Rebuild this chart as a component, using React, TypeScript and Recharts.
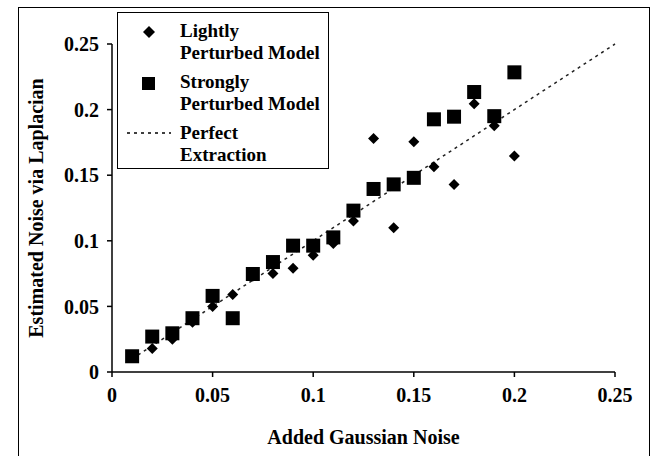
import React from "react";
import { ScatterChart, Scatter, XAxis, YAxis } from "recharts";

// values
const noiseLevels = [0.01, 0.02, 0.03, 0.04, 0.05, 0.06, 0.07, 0.08, 0.09, 0.1, 0.11, 0.12, 0.13, 0.14, 0.15, 0.16, 0.17, 0.18, 0.19, 0.2];
const lightlyValues = [0.011, 0.018, 0.025, 0.038, 0.05, 0.059, 0.073, 0.075, 0.079, 0.089, 0.098, 0.115, 0.178, 0.11, 0.1755, 0.1565, 0.143, 0.2045, 0.1877, 0.1646];
const stronglyValues = [0.012, 0.027, 0.0295, 0.041, 0.058, 0.041, 0.0747, 0.0838, 0.0963, 0.0963, 0.1026, 0.123, 0.1395, 0.143, 0.148, 0.1926, 0.1946, 0.2134, 0.195, 0.2284];
const perfectX = [0.01, 0.25];
const axisTicks = [0, 0.05, 0.1, 0.15, 0.2, 0.25];

const lightly = noiseLevels.map((x, i) => ({ x, y: lightlyValues[i] }));
const strongly = noiseLevels.map((x, i) => ({ x, y: stronglyValues[i] }));
const perfect = perfectX.map((x) => ({ x, y: x }));

const FONT = "'Liberation Serif', 'Times New Roman', serif";

const Diamond = (props: any) => {
  const { cx, cy } = props;
  const r = 5.5;
  return (
    <polygon
      points={`${cx},${cy - r} ${cx + r},${cy} ${cx},${cy + r} ${cx - r},${cy}`}
      fill="#000"
    />
  );
};

const Square = (props: any) => {
  const { cx, cy } = props;
  const s = 14;
  return <rect x={cx - s / 2} y={cy - s / 2} width={s} height={s} fill="#000" />;
};

const NoShape = () => null;

const LegendBox = () => {
  const text = { fontFamily: FONT, fontWeight: 700, fontSize: 19, color: "#000", lineHeight: "22px", whiteSpace: "nowrap" as const };
  return (
    <div
      style={{
        position: "absolute",
        left: 117,
        top: 12,
        width: 212,
        height: 157,
        border: "1.5px solid #000",
        background: "#fff",
        boxSizing: "border-box",
      }}
    >
      <svg width={60} height={155} style={{ position: "absolute", left: 0, top: 0 }}>
        <polygon points="31,13 37,19 31,25 25,19" fill="#000" />
        <rect x={24} y={64} width={13} height={13} fill="#000" />
        <line x1={9} y1={120} x2={53} y2={120} stroke="#000" strokeWidth={1.5} strokeDasharray="3 4" />
      </svg>
      <div style={{ position: "absolute", left: 62, top: 7, ...text }}>
        Lightly<br />Perturbed Model
      </div>
      <div style={{ position: "absolute", left: 62, top: 58, ...text }}>
        Strongly<br />Perturbed Model
      </div>
      <div style={{ position: "absolute", left: 62, top: 109, ...text }}>
        Perfect<br />Extraction
      </div>
    </div>
  );
};

export default function App() {
  const tickStyle = { fontFamily: FONT, fontWeight: 700, fontSize: 20, fill: "#000" };
  const titleStyle = { fontFamily: FONT, fontWeight: 700, fontSize: 20, fill: "#000" };
  return (
    <div style={{ position: "absolute", left: 0, top: 0, width: 656, height: 456, background: "#fff", overflow: "hidden" }}>
      <div
        style={{
          position: "absolute",
          left: 18,
          top: 7,
          width: 632,
          height: 460,
          borderLeft: "1.5px solid #000",
          borderTop: "1.5px solid #000",
          borderRight: "1.5px solid #000",
          boxSizing: "border-box",
        }}
      />
      <ScatterChart
        width={656}
        height={456}
        margin={{ top: 44, right: 41, bottom: 0, left: 0 }}
        style={{ position: "absolute", left: 0, top: 0 }}
      >
        <XAxis
          type="number"
          dataKey="x"
          domain={[0, 0.25]}
          ticks={axisTicks}
          tick={tickStyle}
          tickSize={5}
          tickMargin={11}
          height={84}
          axisLine={{ stroke: "#000", strokeWidth: 1.5 }}
          tickLine={{ stroke: "#000", strokeWidth: 1.5 }}
          label={{ value: "Added Gaussian Noise", position: "insideBottom", offset: 12, fill: "#000", style: titleStyle }}
        />
        <YAxis
          type="number"
          dataKey="y"
          domain={[0, 0.25]}
          ticks={axisTicks}
          tick={tickStyle}
          tickSize={5}
          tickMargin={8}
          width={112}
          axisLine={{ stroke: "#000", strokeWidth: 1.5 }}
          tickLine={{ stroke: "#000", strokeWidth: 1.5 }}
          label={{
            value: "Estimated Noise via Laplacian",
            angle: -90,
            position: "insideLeft",
            offset: 36,
            fill: "#000",
            style: { ...titleStyle, textAnchor: "middle" },
          }}
        />
        <Scatter
          name="Perfect Extraction"
          data={perfect}
          line={{ stroke: "#222", strokeWidth: 1.5, strokeDasharray: "3 4" }}
          shape={NoShape}
          isAnimationActive={false}
        />
        <Scatter name="Lightly Perturbed Model" data={lightly} shape={Diamond} isAnimationActive={false} />
        <Scatter name="Strongly Perturbed Model" data={strongly} shape={Square} isAnimationActive={false} />
      </ScatterChart>
      <LegendBox />
    </div>
  );
}
